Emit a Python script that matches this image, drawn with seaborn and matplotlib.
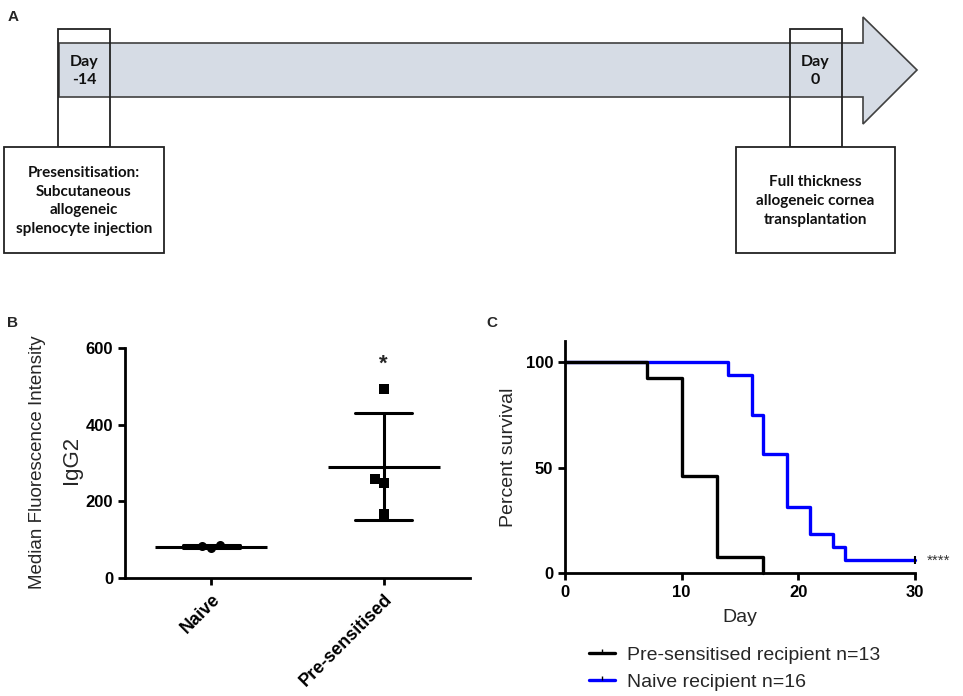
import numpy as np
import pandas as pd
import matplotlib
matplotlib.use('Agg')
import matplotlib.pyplot as plt
from matplotlib.patches import Polygon, Rectangle
from matplotlib.lines import Line2D
import seaborn as sns

# panel A - timeline text
day_labels = ['Day\n-14', 'Day\n0']
event_labels = ['Presensitisation:\nSubcutaneous\nallogeneic\nsplenocyte injection',
                'Full thickness\nallogeneic cornea\ntransplantation']

# panel B - IgG2 MFI per mouse
groups = ['Naive', 'Pre-sensitised']
naive_mfi = [85, 78, 83]
presens_mfi = [492, 258, 247, 166]
mfi_ticks = [0, 200, 400, 600]

# panel C - survival steps (day, percent survival)
presens_days = [0, 7, 10, 13, 17]
presens_surv = [100, 92.3, 46.2, 7.7, 0]
naive_days = [0, 14, 16, 17, 19, 21, 23, 24, 30]
naive_surv = [100, 93.75, 75, 56.25, 31.25, 18.75, 12.5, 6.25, 6.25]
surv_labels = ['Pre-sensitised recipient n=13', 'Naive recipient n=16']
surv_colors = ['black', '#0000ff']
day_ticks = [0, 10, 20, 30]
surv_ticks = [0, 50, 100]

sns.set_theme(style='ticks')
plt.rcParams['font.family'] = ['Liberation Sans', 'DejaVu Sans']
plt.rcParams['axes.linewidth'] = 2
plt.rcParams['xtick.major.width'] = 2
plt.rcParams['ytick.major.width'] = 2
plt.rcParams['xtick.major.size'] = 5
plt.rcParams['ytick.major.size'] = 5
plt.rcParams['xtick.color'] = 'black'
plt.rcParams['ytick.color'] = 'black'
plt.rcParams['axes.edgecolor'] = 'black'

fig = plt.figure(figsize=(9.63, 6.96), dpi=100)

# ---- A: schematic, drawn in pixel space
axA = fig.add_axes([0, 0, 1, 1])
axA.set_xlim(0, 963)
axA.set_ylim(696, 0)
axA.axis('off')
arrow = Polygon([(59, 43), (863, 43), (863, 17), (917, 70), (863, 124), (863, 97), (59, 97)],
                closed=True, fc='#d6dce5', ec='#404040', lw=1.2)
axA.add_patch(arrow)
box_font = ['Lato', 'DejaVu Sans']
for cx, bw, day, ev in zip([84, 815.5], [160, 159], day_labels, event_labels):
    axA.add_patch(Rectangle((cx - 26, 29), 52, 118, fill=False, ec='#222222', lw=1.3))
    axA.add_patch(Rectangle((cx - bw / 2, 147), bw, 106, fc='white', ec='#222222', lw=1.3))
    axA.text(cx, 71, day, ha='center', va='center', fontsize=11.5, fontweight='bold',
             family=box_font, linespacing=1.3, color='#111111')
    axA.text(cx, 201, ev, ha='center', va='center', fontsize=11, fontweight='bold',
             family=box_font, linespacing=1.45, color='#111111')

# ---- B: MFI scatter with mean +/- SD
axB = fig.add_axes([0.1298, 0.1695, 0.3583, 0.3305])
dfB = pd.DataFrame({'group': ['Naive'] * len(naive_mfi) + ['Pre-sensitised'] * len(presens_mfi),
                    'mfi': naive_mfi + presens_mfi})
sns.swarmplot(data=dfB[dfB.group == 'Naive'], x='group', y='mfi', order=groups,
              marker='o', color='black', size=6.5, ax=axB)
sns.swarmplot(data=dfB[dfB.group == 'Pre-sensitised'], x='group', y='mfi', order=groups,
              marker='s', color='black', size=6.5, ax=axB)
sns.pointplot(data=dfB, x='group', y='mfi', order=groups, errorbar='sd', capsize=0.33,
              color='black', linestyle='none', marker='_', markersize=80,
              markeredgewidth=2.2, err_kws={'linewidth': 2.2}, ax=axB)
axB.set_xlim(-0.5, 1.5)
axB.set_ylim(0, 600)
axB.set_yticks(mfi_ticks)
axB.set_xlabel('')
axB.set_ylabel('')
sns.despine(ax=axB)
axB.tick_params(axis='y', labelsize=12)
axB.tick_params(axis='x', labelsize=13, pad=4)
plt.setp(axB.get_yticklabels(), fontweight='bold')
plt.setp(axB.get_xticklabels(), fontweight='bold', rotation=45, ha='right',
         rotation_mode='anchor')
axB.text(1, 558, '*', ha='center', va='center', fontsize=16, fontweight='bold')
fig.text(38 / 963, 1 - 462 / 696, 'Median Fluorescence Intensity', rotation=90,
         ha='center', va='center', fontsize=13.5)
fig.text(71 / 963, 1 - 460 / 696, 'IgG2', rotation=90, ha='center', va='center', fontsize=16)

# ---- C: Kaplan-Meier survival
axC = fig.add_axes([0.5867, 0.1763, 0.3635, 0.3342])
sns.lineplot(x=naive_days, y=naive_surv, drawstyle='steps-post', color=surv_colors[1],
             lw=2.4, estimator=None, clip_on=False, ax=axC)
sns.lineplot(x=presens_days, y=presens_surv, drawstyle='steps-post', color=surv_colors[0],
             lw=2.4, estimator=None, clip_on=False, ax=axC)
axC.plot(naive_days[-1], naive_surv[-1], marker='|', color='black', ms=6, mew=1.5, clip_on=False)
axC.set_xlim(0, 30)
axC.set_ylim(0, 110)
axC.set_xticks(day_ticks)
axC.set_yticks(surv_ticks)
axC.set_xlabel('')
axC.set_ylabel('')
sns.despine(ax=axC)
axC.tick_params(labelsize=12)
plt.setp(axC.get_xticklabels() + axC.get_yticklabels(), fontweight='bold')
axC.text(-0.16, 0.5, 'Percent survival', rotation=90, ha='center', va='center',
         fontsize=14, transform=axC.transAxes)
axC.text(0.5, -0.19, 'Day', ha='center', va='center', fontsize=14, transform=axC.transAxes)
axC.text(31, naive_surv[-1] - 0.5, '****', ha='left', va='center', fontsize=11, color='#333333')
handles = [Line2D([], [], color=c, lw=2.4, marker=2, ms=3, mec='black') for c in surv_colors]
axC.legend(handles, surv_labels, loc='upper left', bbox_to_anchor=(0.07, -0.315),
           frameon=False, fontsize=14, handlelength=1.3, handletextpad=0.65,
           labelspacing=0.45, borderpad=0, borderaxespad=0)

for lab, x, y in [('A', 13, 17), ('B', 13, 323), ('C', 492, 323)]:
    fig.text(x / 963, 1 - y / 696, lab, ha='center', va='center', fontsize=11, fontweight='bold')

fig.savefig('out.png', dpi=100)
